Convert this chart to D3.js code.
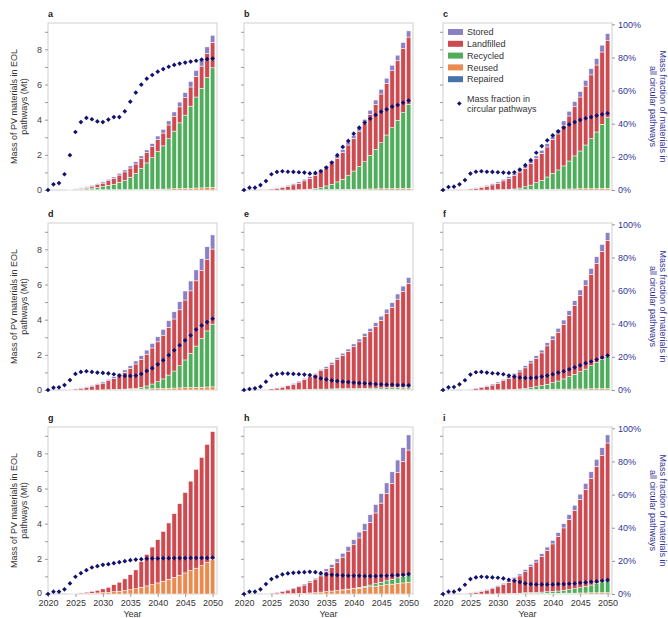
<!DOCTYPE html>
<html>
<head>
<meta charset="utf-8">
<script src="https://cdn.jsdelivr.net/npm/d3@7"></script>
<style>
body{margin:0;background:#fff;}
text{font-family:"Liberation Sans",Arial,sans-serif;}
</style>
</head>
<body>
<svg id="canvas"></svg>
<script>
// years and ticks
let barYears=[2024,2025,2026,2027,2028,2029,2030,2031,2032,2033,2034,2035,2036,2037,2038,2039,2040,2041,2042,2043,2044,2045,2046,2047,2048,2049,2050];
let markerYears=[2020,2021,2022,2023,2024,2025,2026,2027,2028,2029,2030,2031,2032,2033,2034,2035,2036,2037,2038,2039,2040,2041,2042,2043,2044,2045,2046,2047,2048,2049,2050];
let xTicks=[2020,2025,2030,2035,2040,2045,2050];
let yTicks=[0,1,2,3,4,5,6,7,8,9];
let pctTicks=[0,0.2,0.4,0.6,0.8,1];
let panelLetters=['a','b','c','d','e','f','g','h','i'];
let seriesNames=['Stored','Landfilled','Recycled','Reused','Repaired'];

// panel a
let storedA=[.01,.02,.03,.04,.05,.06,.07,.08,.09,.10,.11,.12,.13,.14,.15,.17,.19,.21,.23,.25,.27,.29,.31,.33,.35,.37,.40];
let landfillA=[.02,.03,.05,.07,.11,.15,.20,.26,.32,.41,.49,.52,.54,.57,.59,.63,.69,.73,.78,.84,.91,.99,1.09,1.18,1.26,1.37,1.45];
let recycledA=[.01,.03,.05,.07,.10,.14,.18,.26,.31,.42,.52,.71,.91,1.2,1.5,1.8,2.14,2.46,2.86,3.28,3.74,4.17,4.67,5.18,5.67,6.27,6.8];
let reusedA=[0,0,0,.01,.01,.01,.01,.01,.02,.02,.02,.02,.03,.03,.04,.04,.05,.05,.06,.07,.08,.09,.10,.11,.12,.13,.15];
let circularA=[0,3.4,4.2,9.5,21,35,41,43.5,42.7,41.4,41,42.5,44,44,47.5,53.3,58.8,63.6,67.2,69.4,71.4,73,74.4,75.5,76.3,76.9,77.5,78,78.7,79,79.3];

// panel b
let storedB=[.01,.02,.03,.04,.06,.07,.08,.09,.10,.11,.12,.13,.14,.15,.16,.17,.18,.20,.22,.24,.26,.27,.29,.31,.32,.34,.35];
let landfillB=[.03,.06,.10,.15,.21,.29,.36,.49,.61,.76,.93,1.01,1.19,1.33,1.54,1.73,1.85,2.02,2.19,2.33,2.55,2.77,2.94,3.24,3.38,3.65,3.82];
let recycledB=[0,0,0,0,0,0,.01,.02,.04,.07,.12,.21,.30,.43,.58,.79,1.04,1.28,1.56,1.91,2.25,2.62,3.06,3.47,3.89,4.31,4.78];
let reusedB=[0,0,0,0,0,0,.01,.01,.01,.01,.01,.02,.02,.03,.03,.04,.04,.05,.05,.06,.06,.07,.07,.08,.08,.09,.10];
let circularB=[0,1.4,1.4,3,5.4,9.5,10.9,11.3,11,10.9,10.7,10.5,10,10.3,11.3,13.5,16.5,21,26,29.6,34,37.6,40.6,43,45.3,47.3,48.7,50.3,51.3,52.7,54];

// panel c
let storedC=[.01,.02,.03,.04,.06,.07,.08,.09,.10,.11,.12,.13,.14,.15,.17,.19,.21,.23,.25,.27,.29,.31,.33,.35,.37,.39,.41];
let landfillC=[.03,.06,.10,.15,.21,.29,.36,.49,.62,.78,.91,1.05,1.23,1.37,1.54,1.71,1.91,2.05,2.31,2.56,2.80,3.07,3.35,3.63,3.81,4.11,4.37];
let recycledC=[0,0,0,0,0,0,.01,.02,.03,.05,.10,.17,.26,.39,.52,.70,.91,1.09,1.32,1.59,1.88,2.15,2.49,2.84,3.22,3.65,4.02];
let reusedC=[0,0,0,0,0,0,.01,.01,.01,.01,.01,.02,.02,.03,.03,.04,.04,.05,.05,.06,.06,.07,.07,.08,.08,.09,.10];
let circularC=[0,1.8,2,3.4,6,9.9,11,11.3,11,10.9,10.7,10.5,10.3,10.7,12.3,15,18,22.5,26.5,30,33,35.4,37.6,39.6,41,42.3,43.3,44,44.9,45.7,46.3];

// panel d
let storedD=[.01,.02,.03,.04,.05,.06,.07,.08,.09,.11,.13,.15,.17,.20,.23,.26,.29,.33,.37,.41,.46,.51,.56,.62,.68,.74,.80];
let landfillD=[.03,.06,.10,.15,.22,.30,.38,.51,.64,.80,.96,1.16,1.39,1.60,1.81,2.05,2.27,2.49,2.72,2.96,3.18,3.41,3.55,3.71,3.85,4.05,4.27];
let recycledD=[0,0,0,0,0,0,0,0,.01,.01,.02,.03,.04,.10,.17,.27,.39,.54,.75,.97,1.26,1.58,1.95,2.35,2.78,3.19,3.57];
let reusedD=[0,0,0,0,0,0,.01,.02,.02,.03,.03,.04,.05,.05,.06,.07,.08,.09,.10,.11,.12,.13,.14,.15,.16,.17,.18];
let circularD=[0,1.4,1.6,3,6,9.7,10.9,11.3,10.9,10.5,10.3,10,9.5,8.7,8.5,8.5,8.7,9.7,11.5,13.2,15.5,18,21,24,27,30,33,36.5,39,41,43];

// panel e
let storedE=[.01,.01,.02,.03,.04,.05,.06,.06,.07,.07,.08,.09,.10,.11,.12,.13,.15,.16,.18,.19,.21,.23,.25,.27,.29,.31,.34];
let landfillE=[.03,.07,.11,.16,.23,.32,.43,.57,.71,.83,1.05,1.19,1.41,1.66,1.90,2.12,2.39,2.65,2.94,3.20,3.51,3.85,4.22,4.56,5.02,5.44,5.89];
let recycledE=[0,0,0,0,0,0,.01,.02,.02,.03,.03,.03,.04,.04,.04,.05,.05,.06,.06,.07,.07,.08,.08,.09,.10,.10,.11];
let reusedE=[0,0,0,0,.01,.01,.01,.01,.02,.02,.02,.02,.02,.03,.03,.03,.03,.03,.04,.04,.04,.04,.05,.05,.05,.06,.06];
let circularE=[0,0.6,1,2,5,8.7,9.7,10,9.9,9.7,9.5,9.3,9,8,7,6.4,5.8,5.4,5,4.8,4.4,4.2,4,3.8,3.6,3.4,3.2,3.2,3,3,2.8];

// panel f
let storedF=[.01,.02,.03,.04,.05,.06,.07,.08,.09,.10,.11,.12,.13,.14,.16,.18,.20,.22,.24,.26,.28,.30,.32,.35,.38,.41,.44];
let landfillF=[.02,.04,.08,.13,.20,.28,.37,.52,.64,.81,.97,1.17,1.41,1.62,1.86,2.19,2.45,2.78,3.11,3.49,3.91,4.35,4.75,5.19,5.65,6.13,6.58];
let recycledF=[0,0,0,0,0,0,0,0,.01,.02,.04,.06,.10,.16,.21,.28,.38,.46,.58,.71,.83,.98,1.13,1.31,1.48,1.66,1.85];
let reusedF=[0,0,0,0,0,0,.01,.01,.02,.02,.02,.03,.03,.03,.04,.04,.04,.05,.05,.05,.06,.06,.06,.07,.07,.08,.08];
let circularF=[0,1.6,1.8,3.4,5.9,9.3,10.7,10.9,10.5,10.1,9.9,9.5,8.7,8.1,7.5,7.3,7.3,7.5,8.1,8.7,9.5,10.5,11.3,12.5,13.7,14.9,16.2,17.2,18.4,19.6,20.8];

// panel g
let storedG=[0,0,0,0,0,0,0,0,0,0,0,0,0,0,0,0,0,0,0,0,0,0,0,0,0,0,0];
let landfillG=[.02,.03,.04,.07,.11,.15,.21,.28,.40,.51,.66,.85,1.07,1.47,1.79,2.13,2.46,2.83,3.20,3.62,4.07,4.57,5.09,5.62,6.15,6.71,7.26];
let recycledG=[0,0,0,0,0,0,0,0,0,0,0,0,0,0,0,0,0,0,0,0,0,0,0,0,0,0,0];
let reusedG=[0,.01,.02,.03,.04,.06,.08,.10,.13,.16,.20,.25,.30,.38,.46,.54,.63,.73,.84,.95,1.07,1.20,1.33,1.47,1.62,1.80,1.98];
let circularG=[0,1.4,1.4,2.8,6.4,10.4,12.6,14.4,16,16.8,17.6,18,18.6,19.2,19.8,20.4,20.8,21,21.3,21.5,21.5,21.6,21.6,21.7,21.7,21.7,21.8,21.8,21.8,21.8,21.9];

// panel h
let storedH=[.01,.01,.02,.02,.03,.04,.05,.06,.07,.09,.11,.14,.16,.19,.22,.26,.29,.33,.38,.43,.48,.54,.60,.66,.72,.79,.86];
let landfillH=[.02,.05,.07,.14,.20,.28,.38,.47,.61,.73,.92,1.15,1.35,1.61,1.86,2.16,2.47,2.81,3.18,3.57,4.02,4.50,4.97,5.46,5.98,6.52,7.09];
let recycledH=[0,0,0,0,0,0,0,0,0,0,0,0,0,0,.01,.02,.03,.05,.07,.10,.14,.18,.22,.27,.32,.38,.43];
let reusedH=[0,0,.01,.01,.02,.02,.03,.04,.06,.08,.11,.14,.17,.20,.23,.26,.30,.33,.37,.41,.45,.49,.53,.56,.60,.63,.67];
let circularH=[0,1.4,1.4,2.8,6,9,10.4,11.8,12.4,12.8,13,13.2,13.4,13.2,12.6,11.8,11.6,11.4,11.2,11,11,11,10.8,10.8,10.8,11,11,11.2,11.4,11.6,12];

// panel i
let storedI=[.01,.02,.03,.04,.05,.06,.07,.08,.09,.10,.11,.12,.13,.14,.16,.18,.20,.22,.24,.26,.29,.31,.34,.37,.40,.43,.46];
let landfillI=[.03,.06,.10,.15,.22,.30,.40,.52,.64,.81,.98,1.20,1.47,1.73,2.02,2.36,2.70,3.10,3.55,4.00,4.46,5.01,5.52,6.07,6.67,7.21,7.83];
let recycledI=[0,0,0,0,0,0,0,0,.01,.02,.03,.04,.05,.06,.08,.09,.11,.13,.16,.20,.25,.30,.37,.44,.52,.60,.68];
let reusedI=[0,0,0,0,0,0,.01,.01,.02,.02,.02,.03,.03,.03,.03,.04,.04,.04,.05,.05,.05,.06,.06,.07,.07,.08,.08];
let circularI=[0,1.4,1.4,2.6,5.6,9,10,10.4,10.2,10,9.8,9.4,8.6,8,7.2,6.4,6,5.8,5.8,5.8,5.8,6,6,6.2,6.4,6.8,7,7.4,7.6,8,8.4];

let colors={Stored:'#8a80c3',Landfilled:'#cd4a50',Recycled:'#50ad5c',Reused:'#e98a4f',Repaired:'#4872aa'};
let markerColor='#12126c';
let navy='#33339a';

let width=668,height=618;
let colLeft=[48,244,443],rowTop=[23,223,427];
let plotW=169,plotH=167;

let panels=[
  [storedA,landfillA,recycledA,reusedA,circularA],
  [storedB,landfillB,recycledB,reusedB,circularB],
  [storedC,landfillC,recycledC,reusedC,circularC],
  [storedD,landfillD,recycledD,reusedD,circularD],
  [storedE,landfillE,recycledE,reusedE,circularE],
  [storedF,landfillF,recycledF,reusedF,circularF],
  [storedG,landfillG,recycledG,reusedG,circularG],
  [storedH,landfillH,recycledH,reusedH,circularH],
  [storedI,landfillI,recycledI,reusedI,circularI]
];

let canvas=d3.select('#canvas').attr('width',width).attr('height',height);

let xscale=d3.scaleLinear().domain([2020,2050.8]).range([0,plotW]);
let yscale=d3.scaleLinear().domain([0,9.5]).range([plotH,0]);
let pscale=d3.scaleLinear().domain([0,1.008]).range([plotH,0]);
let barW=(xscale(2021)-xscale(2020))*0.82;
let stackKeys=['Repaired','Reused','Recycled','Landfilled','Stored'];
let diamond=d3.symbol().type(d3.symbolSquare).size(11);

function drawPanel(idx){
  let col=idx%3,row=Math.floor(idx/3);
  let p=panels[idx];
  let g=canvas.append('g').attr('transform','translate('+colLeft[col]+','+rowTop[row]+')');

  g.append('rect').attr('width',plotW).attr('height',plotH)
    .attr('fill','none').attr('stroke','#cfcfcf').attr('stroke-width',1);

  let rows=barYears.map((y,i)=>({year:y,Stored:p[0][i],Landfilled:p[1][i],Recycled:p[2][i],Reused:p[3][i],Repaired:0}));
  let layers=d3.stack().keys(stackKeys)(rows);

  g.selectAll('g.layer').data(layers).enter().append('g')
    .attr('fill',(d)=>colors[d.key])
    .selectAll('rect').data((d)=>d.filter((s)=>s[1]-s[0]>0)).enter().append('rect')
    .attr('x',(d)=>xscale(d.data.year)-barW/2)
    .attr('y',(d)=>yscale(d[1]))
    .attr('width',barW)
    .attr('height',(d)=>yscale(d[0])-yscale(d[1]))
    .attr('stroke','#fff').attr('stroke-width',0.5);

  // left axis
  let yAxis=d3.axisLeft(yscale).tickValues(yTicks).tickSize(3).tickPadding(3)
    .tickFormat((d)=>(col==0&&d%2==0)?d:'');
  let ya=g.append('g').call(yAxis);
  ya.select('.domain').remove();
  ya.selectAll('line').attr('stroke','#9a9a9a');
  ya.selectAll('text').attr('font-size',9).attr('fill','#444');
  if(row==2){ya.selectAll('text').filter((d)=>d==0).attr('dy','0.2em');}

  // right axis
  if(col==2){
    let pAxis=d3.axisRight(pscale).tickValues(pctTicks).tickSize(3).tickPadding(3).tickFormat(d3.format('.0%'));
    let pa=g.append('g').attr('transform','translate('+plotW+',0)').call(pAxis);
    pa.select('.domain').remove();
    pa.selectAll('line').attr('stroke','#9a9a9a');
    pa.selectAll('text').attr('font-size',9).attr('fill',navy);
    let rt=g.append('text').attr('transform','translate('+(plotW+48)+','+(plotH/2)+') rotate(90)')
      .attr('text-anchor','middle').attr('font-size',9).attr('fill',navy);
    rt.append('tspan').attr('x',0).attr('y',0).text('Mass fraction of materials in');
    rt.append('tspan').attr('x',0).attr('y',10.5).text('all circular pathways');
  }

  if(col==0){
    let lt=g.append('text').attr('transform','translate(-31.5,'+(plotH/2)+') rotate(-90)')
      .attr('text-anchor','middle').attr('font-size',9).attr('fill','#333');
    lt.append('tspan').attr('x',0).attr('y',0).text('Mass of PV materials in EOL');
    lt.append('tspan').attr('x',0).attr('y',10).text('pathways (Mt)');
  }

  // bottom axis
  if(row==2){
    let xAxis=d3.axisBottom(xscale).tickValues(xTicks).tickSize(3).tickPadding(3).tickFormat(d3.format('d'));
    let xa=g.append('g').attr('transform','translate(0,'+plotH+')').call(xAxis);
    xa.select('.domain').remove();
    xa.selectAll('line').attr('stroke','#9a9a9a');
    xa.selectAll('text').attr('font-size',9).attr('fill','#333');
    g.append('text').attr('x',plotW/2).attr('y',plotH+23).attr('text-anchor','middle')
      .attr('font-size',9).attr('fill','#333').text('Year');
  }

  // circular fraction markers
  g.selectAll('path.mk').data(markerYears.map((y,i)=>({year:y,v:p[4][i]}))).enter().append('path')
    .attr('class','mk')
    .attr('d',diamond)
    .attr('fill',markerColor)
    .attr('transform',(d)=>'translate('+xscale(d.year)+','+pscale(d.v/100)+') rotate(45)');

  g.append('text').attr('x',0).attr('y',-6.5).attr('font-size',9).attr('font-weight','bold')
    .attr('fill','#222').text(panelLetters[idx]);
}

function drawLegend(){
  let lg=canvas.append('g').attr('transform','translate('+(colLeft[2]+5)+','+(rowTop[0]+9)+')');
  seriesNames.forEach((name,i)=>{
    lg.append('rect').attr('x',0).attr('y',i*11.8-3).attr('width',15).attr('height',6).attr('fill',colors[name]);
    lg.append('text').attr('x',19).attr('y',i*11.8+3.2).attr('font-size',9).attr('fill','#333').text(name);
  });
  lg.append('path').attr('d',diamond).attr('fill',markerColor)
    .attr('transform','translate(11.3,71.5) rotate(45)');
  lg.append('text').attr('x',19).attr('y',69.5).attr('font-size',9).attr('fill','#333').text('Mass fraction in');
  lg.append('text').attr('x',19).attr('y',79.5).attr('font-size',9).attr('fill','#333').text('circular pathways');
}

for(let i=0;i<9;i++){drawPanel(i);}
drawLegend();
</script>
</body>
</html>
